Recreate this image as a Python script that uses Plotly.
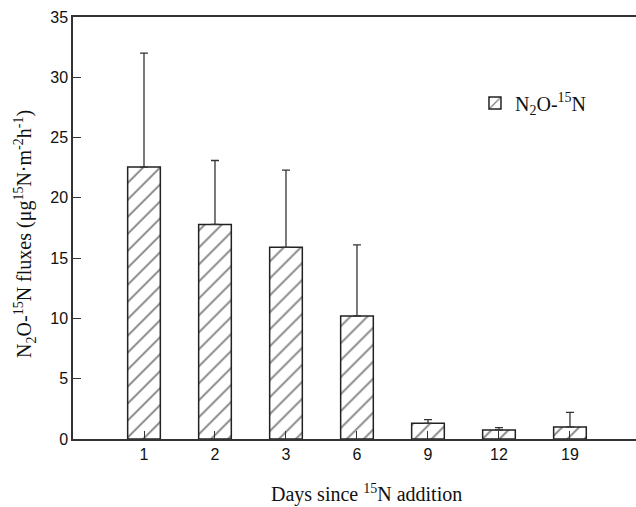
import plotly.graph_objects as go

days = ["1", "2", "3", "6", "9", "12", "19"]
flux = [22.55, 17.8, 15.9, 10.2, 1.3, 0.75, 1.0]
err_up = [9.45, 5.3, 6.4, 5.9, 0.3, 0.2, 1.2]
y_ticks = [0, 5, 10, 15, 20, 25, 30, 35]

fig = go.Figure()
fig.add_trace(go.Bar(
    x=days, y=flux,
    name="N<sub>2</sub>O-<sup>15</sup>N",
    width=0.46,
    marker=dict(color="white", line=dict(color="#222", width=1.5),
                pattern=dict(shape="/", fgcolor="#000", bgcolor="white", size=12, solidity=0.15)),
    error_y=dict(type="data", symmetric=False, array=err_up, arrayminus=[0] * len(err_up),
                 color="#333", thickness=1.3, width=4),
))

serif = dict(family="Liberation Serif", size=20, color="#111")

fig.update_layout(
    width=636, height=507,
    margin=dict(l=73, r=0, t=17, b=68),
    plot_bgcolor="white", paper_bgcolor="white",
    showlegend=True,
    legend=dict(x=0.714, y=0.796, xanchor="left", yanchor="middle",
                font=serif, bgcolor="rgba(0,0,0,0)"),
    xaxis=dict(type="category", range=[-1.0, 6.93], showline=True, linecolor="#333", linewidth=1.5,
               mirror=True, ticks="inside", ticklen=8, tickcolor="#333",
               tickfont=dict(family="Liberation Sans", size=16, color="#111")),
    yaxis=dict(range=[0, 35], tickvals=y_ticks, showline=True, linecolor="#333", linewidth=1.5,
               ticks="inside", ticklen=8, tickcolor="#333", showgrid=False, zeroline=False,
               tickfont=dict(family="Liberation Sans", size=16, color="#111")),
    annotations=[
        dict(text="Days since <sup>15</sup>N addition", xref="paper", yref="paper",
             x=0.522, y=-0.130, xanchor="center", yanchor="middle", showarrow=False, font=serif),
        dict(text="N<sub>2</sub>O-<sup>15</sup>N fluxes (μg<sup>15</sup>N·m<sup>-2</sup>h<sup>-1</sup>)",
             xref="paper", yref="paper", x=-0.0853, y=0.486, xanchor="center", yanchor="middle",
             textangle=-90, showarrow=False, font=serif),
    ],
)

fig.write_html("out.html")
